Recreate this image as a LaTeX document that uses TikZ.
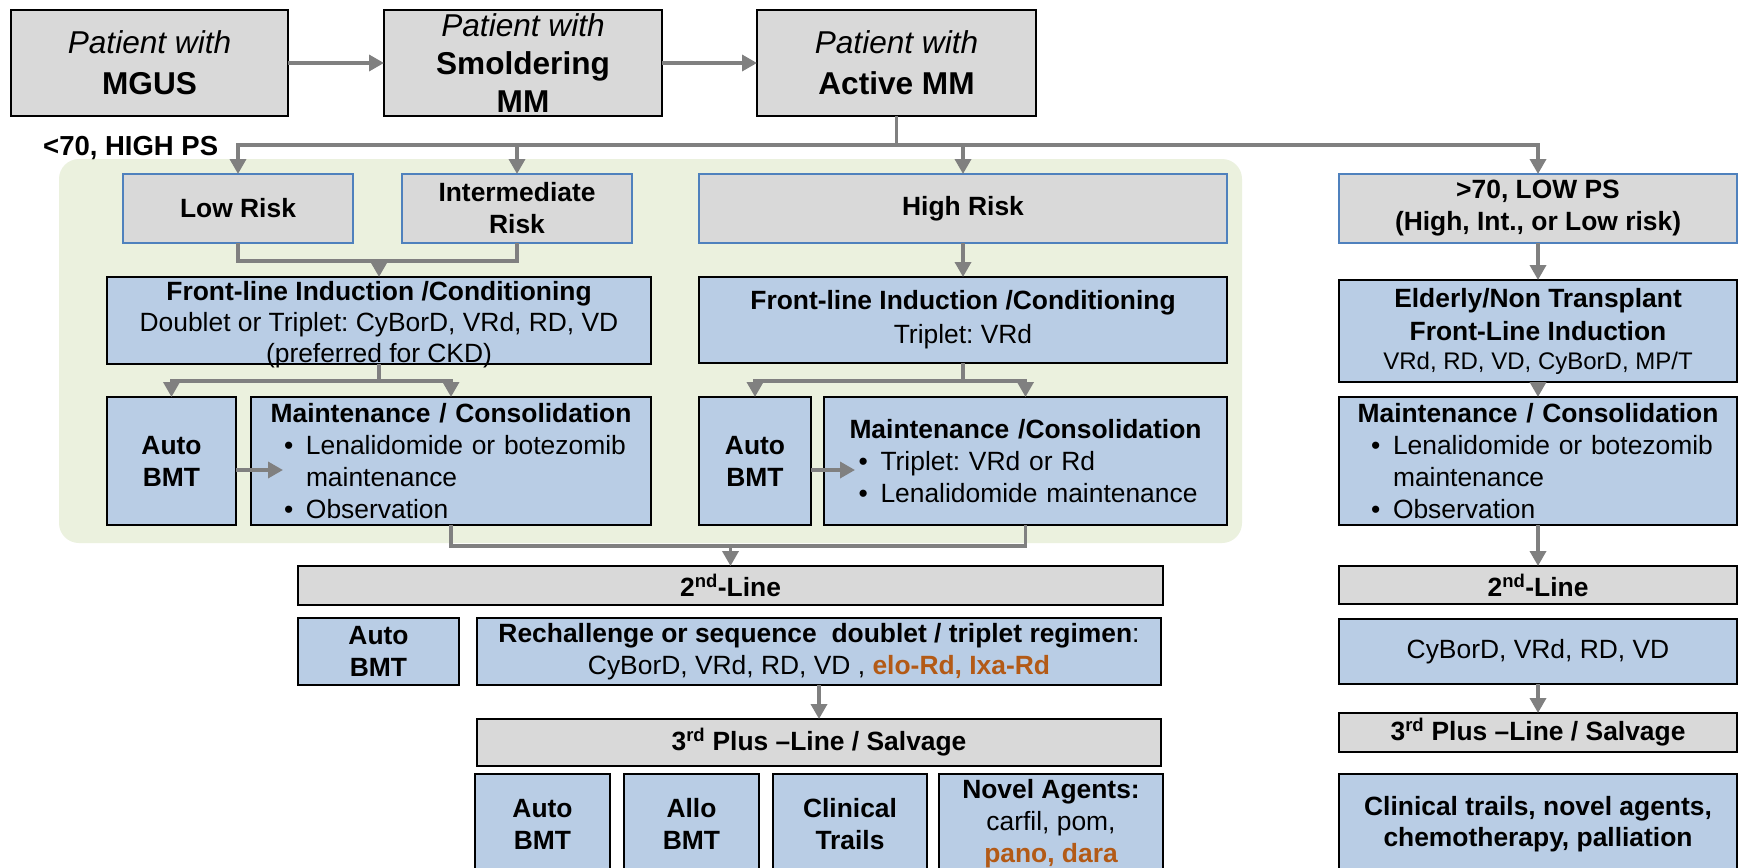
\documentclass[tikz,border=0pt]{standalone}
\usepackage{fontspec}
\setmainfont{Liberation Sans}
\usetikzlibrary{arrows.meta}
\definecolor{gfill}{HTML}{D9D9D9}
\definecolor{bfill}{HTML}{B9CDE5}
\definecolor{riskblue}{HTML}{4F81BD}
\definecolor{greenbg}{HTML}{EBF1DE}
\definecolor{conngray}{HTML}{808080}
\definecolor{drugorange}{HTML}{B35A16}
\newcommand\myfs{\fontsize{26.4pt}{32pt}\selectfont}
\newcommand\mybig{\fontsize{31.6pt}{41pt}\selectfont}
\newcommand\mybul{\hspace*{18pt}\makebox[22pt][l]{\textbullet}}
\setlength\parindent{0pt}
\frenchspacing
\begin{document}
\begin{tikzpicture}[x=1pt,y=-1pt,
 base/.style={inner sep=0pt, outer sep=0pt, anchor=north west, align=center, font=\myfs},
 gbox/.style={base, draw=black, line width=2pt, fill=gfill},
 bbox/.style={base, draw=black, line width=2pt, fill=bfill},
 rbox/.style={base, draw=riskblue, line width=1.6pt, fill=gfill, font=\myfs\bfseries},
 bold/.style={font=\myfs\bfseries},
 conn/.style={draw=conngray, line width=3.5pt},
 arr/.style={conn, -{Triangle[width=16pt,length=15pt]}},
]
\clip (0,0) rectangle (1739,867);
\fill[white] (0,0) rectangle (1739,867);
\fill[greenbg, rounded corners=20pt] (59,159) rectangle (1242,543);

% top row
\node[gbox, minimum width=277pt, minimum height=106pt, font=\mybig] (mgus) at (11,10) {\textit{Patient with}\\\textbf{MGUS}};
\node[gbox, minimum width=278pt, minimum height=106pt, font=\fontsize{31.6pt}{38pt}\selectfont] (smold) at (384,10) {\textit{Patient with}\\\textbf{Smoldering}\\\textbf{MM}};
\node[gbox, minimum width=279pt, minimum height=106pt, font=\mybig] (active) at (757,10) {\textit{Patient with}\\\textbf{Active MM}};

\node[font=\fontsize{27.5pt}{33pt}\selectfont\bfseries, anchor=base west, inner sep=0pt] (agelbl) at (43,155) {<70, HIGH PS};

% risk boxes
\node[rbox, minimum width=230pt, minimum height=69pt] (low) at (123,174) {Low Risk};
\node[rbox, minimum width=230pt, minimum height=69pt] (inter) at (402,174) {Intermediate\\Risk};
\node[rbox, minimum width=528pt, minimum height=69pt] (high) at (699,174) {High Risk};
\node[rbox, minimum width=398pt, minimum height=69pt] (old) at (1339,174) {>70, LOW PS\\(High, Int., or Low risk)};

% front line
\node[bbox, minimum width=544pt, minimum height=87pt, inner ysep=-12pt, font=\fontsize{26.4pt}{31pt}\selectfont] (fl1) at (107,277) {\rule{0pt}{28pt}\textbf{Front-line Induction /Conditioning}\\Doublet or Triplet: CyBorD, VRd, RD, VD\\(preferred for CKD)};
\node[bbox, minimum width=528pt, minimum height=86pt, font=\fontsize{26.4pt}{34pt}\selectfont] (fl2) at (699,277) {\textbf{Front-line Induction /Conditioning}\\Triplet: VRd};
\node[bbox, minimum width=398pt, minimum height=102pt, font=\fontsize{26.4pt}{33pt}\selectfont] (eld) at (1339,280) {\textbf{Elderly/Non Transplant}\\\textbf{Front-Line Induction}\\[-4pt]{\fontsize{24pt}{29pt}\selectfont VRd, RD, VD, CyBorD, MP/T}};

% transplant / maintenance
\node[bbox, bold, minimum width=129pt, minimum height=128pt] (auto1) at (107,397) {Auto\\BMT};
\node[bbox, text width=370pt, align=left, minimum width=400pt, minimum height=128pt] (maint1) at (251,397) {{\centering\textbf{Maintenance / Consolidation}\par}\mybul Lenalidomide or botezomib\par\hspace*{40pt}maintenance\par\mybul Observation};
\node[bbox, bold, minimum width=112pt, minimum height=128pt] (auto2) at (699,397) {Auto\\BMT};
\node[bbox, text width=370pt, align=left, minimum width=403pt, minimum height=128pt] (maint2) at (824,397) {{\centering\textbf{Maintenance /Consolidation}\par}\mybul Triplet: VRd or Rd\par\mybul Lenalidomide maintenance};
\node[bbox, text width=370pt, align=left, minimum width=398pt, minimum height=128pt] (maint3) at (1339,397) {{\centering\textbf{Maintenance / Consolidation}\par}\mybul Lenalidomide or botezomib\par\hspace*{40pt}maintenance\par\mybul Observation};

% second line
\node[gbox, bold, minimum width=865pt, minimum height=39pt] (sec1) at (298,566) {2\textsuperscript{nd}-Line};
\node[bbox, bold, minimum width=161pt, minimum height=67pt] (autob) at (298,618) {Auto\\BMT};
\node[bbox, minimum width=684pt, minimum height=67pt] (rech) at (477,618) {\textbf{Rechallenge or sequence\ \ doublet / triplet regimen}:\\CyBorD, VRd, RD, VD , \textcolor{drugorange}{\textbf{elo-Rd, Ixa-Rd}}};
\node[gbox, bold, minimum width=684pt, minimum height=47pt] (third1) at (477,719) {3\textsuperscript{rd} Plus –Line / Salvage};
\node[bbox, bold, minimum width=135pt, minimum height=100pt] (ab3) at (475,774) {Auto\\BMT};
\node[bbox, bold, minimum width=135pt, minimum height=100pt] (allo3) at (624,774) {Allo\\BMT};
\node[bbox, bold, minimum width=154pt, minimum height=100pt] (clin3) at (773,774) {Clinical\\Trails};
\node[bbox, bold, minimum width=224pt, minimum height=100pt] (novel3) at (939,774) {Novel Agents:\\{\mdseries carfil, pom,}\\\textcolor{drugorange}{pano, dara}};

% right column
\node[gbox, bold, minimum width=398pt, minimum height=38pt] (sec2) at (1339,566) {2\textsuperscript{nd}-Line};
\node[bbox, minimum width=398pt, minimum height=65pt] (cy) at (1339,619) {CyBorD, VRd, RD, VD};
\node[gbox, bold, minimum width=398pt, minimum height=39pt] (third2) at (1339,713) {3\textsuperscript{rd} Plus –Line / Salvage};
\node[bbox, font=\fontsize{26.4pt}{31pt}\selectfont\bfseries, minimum width=398pt, minimum height=100pt] (clin2) at (1339,774) {Clinical trails, novel agents,\\chemotherapy, palliation};

% connectors
\coordinate (y145) at (0,145);
\coordinate (y261) at (0,261);
\coordinate (y381) at (0,381);
\coordinate (y546) at (0,546);
\coordinate (j0) at (active.south |- y145);
\coordinate (m1tip) at (283,470);
\coordinate (m2tip) at (855,470);

\draw[arr] (mgus.east) -- (smold.west);
\draw[arr] (smold.east) -- (active.west);
\draw[conn] (active.south) -- (j0);
\draw[arr] (j0) -| (low.north);
\draw[arr] (j0) -| (inter.north);
\draw[arr] (j0) -| (high.north);
\draw[arr] (j0) -| (old.north);

\draw[conn] (low.south) |- (inter.south |- y261) -- (inter.south);
\draw[arr] (fl1.north |- y261) -- (fl1.north);
\draw[arr] (high.south) -- (fl2.north);
\draw[arr] (old.south) -- (eld.north);

\draw[conn] (fl1.south) -- (fl1.south |- y381);
\draw[arr] (fl1.south |- y381) -| (auto1.north);
\draw[arr] (fl1.south |- y381) -| (maint1.north);
\draw[conn] (fl2.south) -- (fl2.south |- y381);
\draw[arr] (fl2.south |- y381) -| (auto2.north);
\draw[arr] (fl2.south |- y381) -| (maint2.north);
\draw[arr] (eld.south) -- (maint3.north);

\draw[arr] (auto1.east |- m1tip) -- (m1tip);
\draw[arr] (auto2.east |- m2tip) -- (m2tip);

\draw[conn] (maint1.south) |- (maint2.south |- y546) -- (maint2.south);
\draw[arr] (sec1.north |- y546) -- (sec1.north);
\draw[arr] (rech.south) -- (third1.north);
\draw[arr] (maint3.south) -- (sec2.north);
\draw[arr] (cy.south) -- (third2.north);
\end{tikzpicture}
\end{document}
